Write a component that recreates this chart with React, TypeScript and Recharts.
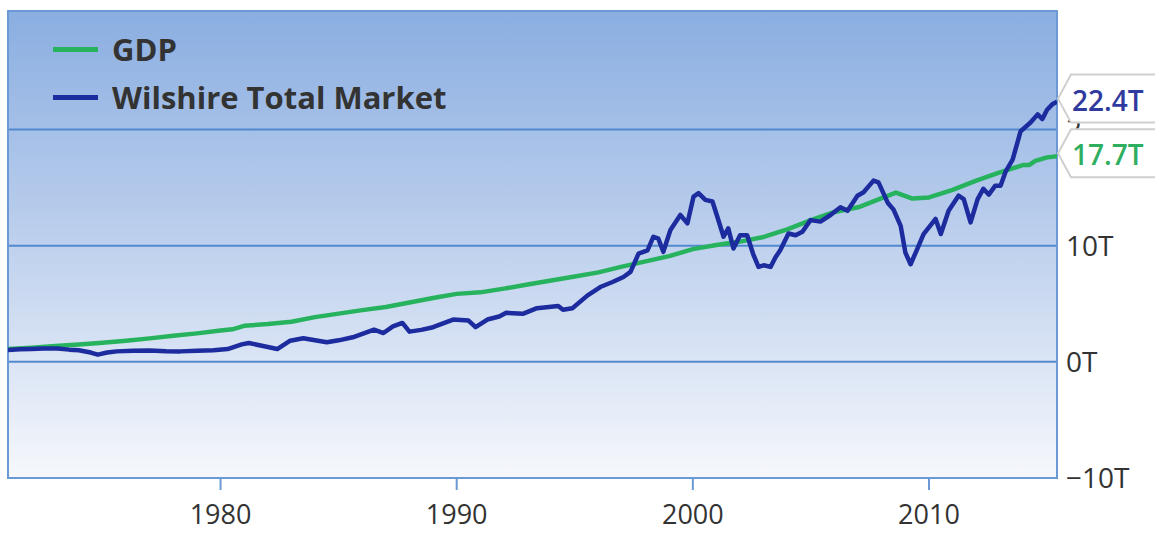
import {
  LineChart,
  Line,
  XAxis,
  YAxis,
  CartesianGrid,
  ReferenceArea,
  LabelList,
  Legend,
} from "recharts";

// year, trillions of dollars
const GDP_POINTS: [number, number][] = [
  [1971.0, 1.1], [1972.0, 1.22], [1973.0, 1.36], [1974.0, 1.5], [1975.0, 1.64],
  [1976.0, 1.82], [1977.0, 2.02], [1978.0, 2.24], [1979.0, 2.45], [1980.0, 2.7],
  [1980.5, 2.8], [1981.0, 3.1], [1982.0, 3.25], [1983.0, 3.45], [1984.0, 3.85],
  [1985.0, 4.15], [1986.0, 4.45], [1987.0, 4.72], [1988.0, 5.1], [1989.0, 5.5],
  [1990.0, 5.85], [1991.0, 5.98], [1992.0, 6.3], [1993.0, 6.65], [1994.0, 7.0],
  [1995.0, 7.35], [1996.0, 7.7], [1997.0, 8.2], [1998.0, 8.65], [1999.0, 9.1],
  [2000.0, 9.7], [2001.0, 10.05], [2002.0, 10.35], [2003.0, 10.75], [2004.0, 11.4],
  [2005.0, 12.2], [2006.0, 12.9], [2007.0, 13.3], [2008.0, 14.1], [2008.6, 14.57],
  [2009.3, 14.05], [2010.0, 14.15], [2011.0, 14.8], [2012.0, 15.6], [2013.0, 16.3],
  [2014.0, 16.95], [2014.25, 16.95], [2014.5, 17.3], [2015.0, 17.6], [2015.42, 17.7],
];

const WILSHIRE_POINTS: [number, number][] = [
  [1971.0, 1.02], [1971.5, 1.08], [1972.0, 1.1], [1972.5, 1.14], [1973.1, 1.15],
  [1973.6, 1.05], [1974.0, 1.0], [1974.5, 0.8], [1974.8, 0.62], [1975.2, 0.8],
  [1975.6, 0.9], [1976.3, 0.95], [1977.0, 0.98], [1977.7, 0.92], [1978.3, 0.9],
  [1979.0, 0.95], [1979.7, 1.0], [1980.3, 1.1], [1980.9, 1.5], [1981.2, 1.62],
  [1981.9, 1.32], [1982.4, 1.1], [1982.95, 1.82], [1983.5, 2.03], [1984.5, 1.68],
  [1985.0, 1.85], [1985.6, 2.11], [1986.5, 2.77], [1986.9, 2.48], [1987.3, 3.05],
  [1987.7, 3.35], [1988.0, 2.6], [1988.5, 2.75], [1989.0, 2.98], [1989.85, 3.64],
  [1990.5, 3.55], [1990.8, 2.98], [1991.3, 3.64], [1991.8, 3.9], [1992.1, 4.22],
  [1992.8, 4.13], [1993.4, 4.62], [1994.3, 4.8], [1994.5, 4.48], [1994.9, 4.62],
  [1995.53, 5.7], [1996.08, 6.44], [1996.6, 6.87], [1997.06, 7.3], [1997.36, 7.74],
  [1997.7, 9.32], [1998.08, 9.6], [1998.33, 10.77], [1998.54, 10.6], [1998.75, 9.47],
  [1999.05, 11.35], [1999.47, 12.64], [1999.77, 11.92], [2000.03, 14.23], [2000.24, 14.52],
  [2000.53, 13.94], [2000.83, 13.8], [2001.05, 12.4], [2001.3, 10.77], [2001.5, 11.49],
  [2001.72, 9.76], [2002.0, 10.9], [2002.3, 10.9], [2002.55, 9.3], [2002.78, 8.17],
  [2003.0, 8.31], [2003.29, 8.17], [2003.5, 9.0], [2003.7, 9.61], [2004.05, 11.05],
  [2004.35, 10.9], [2004.64, 11.2], [2004.98, 12.2], [2005.4, 12.07], [2005.83, 12.64],
  [2006.25, 13.3], [2006.55, 13.0], [2006.97, 14.3], [2007.23, 14.6], [2007.65, 15.6],
  [2007.86, 15.45], [2008.25, 13.7], [2008.5, 13.1], [2008.8, 11.7], [2009.0, 9.4],
  [2009.22, 8.4], [2009.5, 9.7], [2009.77, 11.0], [2010.28, 12.3], [2010.5, 11.0],
  [2010.83, 13.0], [2011.25, 14.3], [2011.47, 14.0], [2011.76, 12.0], [2012.06, 14.0],
  [2012.3, 14.9], [2012.53, 14.4], [2012.8, 15.15], [2013.03, 15.15], [2013.25, 16.4],
  [2013.54, 17.4], [2013.88, 19.85], [2014.3, 20.6], [2014.6, 21.3], [2014.8, 20.9],
  [2015.0, 21.7], [2015.24, 22.2], [2015.42, 22.4],
];

const X_TICKS = [1980, 1990, 2000, 2010];
const Y_TICKS = [-10, 0, 10, 20];
const X_DOMAIN: [number, number] = [1971, 2015.42];
const Y_DOMAIN: [number, number] = [-10, 30.2];

const SERIES = [
  { name: "GDP", color: "#27b35e", text: "#2fae5f" },
  { name: "Wilshire Total Market", color: "#1c2b9e", text: "#2f3a9e" },
];

const gdpData = GDP_POINTS.map(([t, v]) => ({ t, v }));
const wilshireData = WILSHIRE_POINTS.map(([t, v]) => ({ t, v }));

const FONT = "'Open Sans', 'DejaVu Sans', sans-serif";

// the top tick label is squeezed between the two end callouts
function yTickText(v: number) {
  if (v < 0) return `\u2212${-v}T`;
  if (v === 20) return "2\u2026";
  return `${v}T`;
}

function makeCallout(lastIndex: number, textColor: string) {
  return (props: any) => {
    const { x, y, index, value } = props;
    if (index !== lastIndex) return null;
    const x0 = Number(x) + 1;
    const y0 = Number(y) - 3;
    const h = 24;
    const pts = [
      [x0, y0],
      [x0 + 13, y0 - h],
      [x0 + 110, y0 - h],
      [x0 + 110, y0 + h],
      [x0 + 13, y0 + h],
    ]
      .map((p) => p.join(","))
      .join(" ");
    return (
      <g>
        <polygon points={pts} fill="#fff" stroke="#cfcfcf" strokeWidth={2} />
        <text
          x={x0 + 14}
          y={y0 + 1}
          fill={textColor}
          fontSize={28}
          fontWeight={600}
          fontFamily={FONT}
          dominantBaseline="central"
        >
          {`${value}T`}
        </text>
      </g>
    );
  };
}

function LegendBox() {
  return (
    <div style={{ fontFamily: FONT }}>
      {SERIES.map((s) => (
        <div
          key={s.name}
          style={{ display: "flex", alignItems: "center", height: 48 }}
        >
          <span
            style={{
              display: "inline-block",
              width: 45,
              height: 5,
              background: s.color,
              marginRight: 14,
            }}
          />
          <span style={{ fontSize: 31, fontWeight: 700, color: "#333" }}>
            {s.name}
          </span>
        </div>
      ))}
    </div>
  );
}

export default function App() {
  return (
    <div
      style={{
        position: "absolute",
        left: 0,
        top: 0,
        width: 1155,
        height: 534,
        background: "#fff",
        fontFamily: FONT,
      }}
    >
      <LineChart
        width={1155}
        height={534}
        margin={{ top: 11, right: 0, bottom: 0, left: 8 }}
      >
        <defs>
          <linearGradient id="plotBg" x1="0" y1="0" x2="0" y2="1">
            <stop offset="0%" stopColor="#8aaee1" />
            <stop offset="45%" stopColor="#b9cdec" />
            <stop offset="100%" stopColor="#f6f8fc" />
          </linearGradient>
        </defs>
        <CartesianGrid
          vertical={false}
          stroke="#5289cf"
          strokeWidth={2}
          fill="url(#plotBg)"
          fillOpacity={1}
        />
        <XAxis
          dataKey="t"
          type="number"
          domain={X_DOMAIN}
          ticks={X_TICKS}
          allowDataOverflow
          allowDuplicatedCategory={false}
          height={56}
          axisLine={false}
          tickLine={{ stroke: "#6a9ad6", strokeWidth: 2 }}
          tickSize={12}
          tickMargin={15}
          tick={{ fill: "#333", fontSize: 27, fontFamily: FONT }}
        />
        <YAxis
          orientation="right"
          type="number"
          domain={Y_DOMAIN}
          ticks={Y_TICKS}
          allowDataOverflow
          width={98}
          axisLine={false}
          tickLine={false}
          tickSize={0}
          tickMargin={9}
          tickFormatter={yTickText}
          tick={{ fill: "#333", fontSize: 28, fontFamily: FONT, textAnchor: "start" }}
        />
        <ReferenceArea
          x1={X_DOMAIN[0]}
          x2={X_DOMAIN[1]}
          y1={Y_DOMAIN[0]}
          y2={Y_DOMAIN[1]}
          fill="none"
          stroke="#6a9ad6"
          strokeWidth={2}
          ifOverflow="visible"
        />
        <Legend
          layout="horizontal"
          verticalAlign="middle"
          align="center"
          wrapperStyle={{ left: 53, top: 25, width: "auto", height: "auto" }}
          content={() => <LegendBox />}
        />
        <Line
          data={gdpData}
          dataKey="v"
          name={SERIES[0].name}
          type="linear"
          stroke={SERIES[0].color}
          strokeWidth={4.5}
          strokeLinejoin="round"
          dot={false}
          activeDot={false}
          isAnimationActive={false}
        >
          <LabelList
            dataKey="v"
            content={makeCallout(gdpData.length - 1, SERIES[0].text)}
          />
        </Line>
        <Line
          data={wilshireData}
          dataKey="v"
          name={SERIES[1].name}
          type="linear"
          stroke={SERIES[1].color}
          strokeWidth={4.5}
          strokeLinejoin="round"
          dot={false}
          activeDot={false}
          isAnimationActive={false}
        >
          <LabelList
            dataKey="v"
            content={makeCallout(wilshireData.length - 1, SERIES[1].text)}
          />
        </Line>
      </LineChart>
    </div>
  );
}
